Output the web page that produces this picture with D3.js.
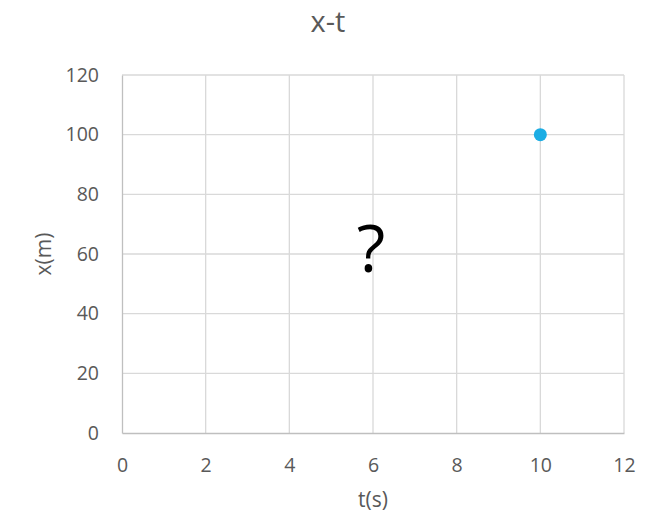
<!DOCTYPE html>
<html><head><meta charset="utf-8">
<script src="https://cdn.jsdelivr.net/npm/d3@7"></script>
<style>body{margin:0;background:#fff}svg{display:block}</style>
</head><body>
<script>
const title = "x-t";
const xLabel = "t(s)";
const yLabel = "x(m)";
const xTicks = [0, 2, 4, 6, 8, 10, 12];
const yTicks = [0, 20, 40, 60, 80, 100, 120];
const tValues = [10];
const xValues = [100];
const note = "?";

const W = 657, H = 517;
const svg = d3.select("body").append("svg").attr("width", W).attr("height", H);
const x = d3.scaleLinear().domain([0, 12]).range([122, 624]);
const y = d3.scaleLinear().domain([0, 120]).range([433, 75]);
const font = "'Open Sans', sans-serif";

// gridlines
svg.append("g").selectAll("line.h").data(yTicks.filter(d => d > 0)).join("line")
  .attr("x1", x(0)).attr("x2", x(12)).attr("y1", d => y(d)).attr("y2", d => y(d))
  .attr("stroke", "#d9d9d9").attr("stroke-width", 1.3);
svg.append("g").selectAll("line.v").data(xTicks.filter(d => d > 0)).join("line")
  .attr("y1", y(0)).attr("y2", y(120)).attr("x1", d => x(d)).attr("x2", d => x(d))
  .attr("stroke", "#d9d9d9").attr("stroke-width", 1.3);

// axes
const xAxis = svg.append("g").attr("transform", `translate(0,${y(0)})`)
  .call(d3.axisBottom(x).tickValues(xTicks).tickSize(0));
xAxis.selectAll("text").attr("y", 39).attr("dy", 0);
const yAxis = svg.append("g").attr("transform", `translate(${x(0)},0)`)
  .call(d3.axisLeft(y).tickValues(yTicks).tickSize(0).tickPadding(23));
[xAxis, yAxis].forEach(a => {
  a.select(".domain").attr("stroke", "#bfbfbf").attr("stroke-width", 1.3);
  a.selectAll("text").attr("fill", "#595959").style("font-family", font).style("font-size", "19.5px");
});

// point
svg.append("g").selectAll("circle").data(tValues).join("circle")
  .attr("cx", d => x(d)).attr("cy", (d, i) => y(xValues[i])).attr("r", 6.5)
  .attr("fill", "#1CADE4");

// texts
svg.append("text").attr("x", 328).attr("y", 32).attr("text-anchor", "middle")
  .attr("fill", "#595959").style("font-family", font).style("font-size", "29px").text(title);
svg.append("text").attr("x", 373).attr("y", 507).attr("text-anchor", "middle")
  .attr("fill", "#595959").style("font-family", font).style("font-size", "21px").text(xLabel);
svg.append("text").attr("transform", "translate(51,254) rotate(-90)").attr("text-anchor", "middle")
  .attr("fill", "#595959").style("font-family", font).style("font-size", "21px").text(yLabel);
svg.append("text").attr("x", 371).attr("y", 272).attr("text-anchor", "middle")
  .attr("fill", "#000").style("font-family", font).style("font-size", "66px").text(note);
</script>
</body></html>
